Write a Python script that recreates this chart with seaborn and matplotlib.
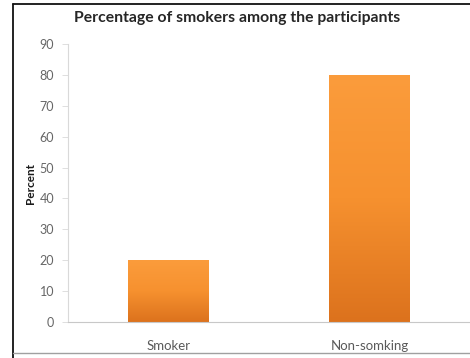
import numpy as np
import pandas as pd
import matplotlib
matplotlib.use("Agg")
import matplotlib.pyplot as plt
from matplotlib.colors import LinearSegmentedColormap
from matplotlib.lines import Line2D
import seaborn as sns

categories = ["Smoker", "Non-somking"]
percent = [20, 80]
yticks = [0, 10, 20, 30, 40, 50, 60, 70, 80, 90]
title = "Percentage of smokers among the participants"
ylabel = "Percent"

sns.set_theme(style="white")
plt.rcParams["font.family"] = ["Lato", "DejaVu Sans"]

df = pd.DataFrame({"category": categories, "percent": percent})

fig = plt.figure(figsize=(4.70, 3.58), dpi=100)
ax = fig.add_axes([68 / 470, 36 / 358, 402 / 470, 278 / 358])

sns.barplot(data=df, x="category", y="percent", ax=ax, width=0.4,
            color="#F08A2A", saturation=1, edgecolor="none")

ax.set_xlim(-0.5, 1.5)
ax.set_ylim(0, 90)
ax.set_yticks(yticks)
ax.set_xlabel("")
ax.set_ylabel(ylabel, fontsize=8.5, fontweight="bold", color="#1a1a1a")
ax.yaxis.set_label_coords(-32 / 402, 0.5)

# vertical orange gradient inside each bar
grad = LinearSegmentedColormap.from_list("bar", ["#DC721D", "#F6912F", "#FB9C3C"])
g = np.linspace(0, 1, 256).reshape(-1, 1)
for patch in ax.patches:
    x0, y0 = patch.get_x(), patch.get_y()
    w, h = patch.get_width(), patch.get_height()
    im = ax.imshow(g, cmap=grad, aspect="auto", origin="lower",
                   extent=[x0, x0 + w, y0, y0 + h], zorder=2)
    im.set_clip_path(patch)
    patch.set_facecolor("none")
ax.set_xlim(-0.5, 1.5)
ax.set_ylim(0, 90)

for s in ["top", "right"]:
    ax.spines[s].set_visible(False)
ax.spines["left"].set_color("#d9d9d9")
ax.spines["bottom"].set_color("#c8c8c8")
ax.spines["left"].set_linewidth(0.8)
ax.spines["bottom"].set_linewidth(0.8)

ax.tick_params(axis="y", left=True, length=4, width=0.6, color="#d9d9d9",
               labelsize=9, labelcolor="#666666", pad=6)
ax.tick_params(axis="x", bottom=False, labelsize=9.5, labelcolor="#5a5a5a", pad=7)

fig.text(237 / 470, 1 - 18 / 358, title, ha="center", va="center",
         fontsize=11.3, fontweight="bold", color="#262626")

# chart frame: dark left and top edges, grey bottom edge
fig.add_artist(Line2D([13 / 470, 13 / 470], [0, 1 - 4 / 358],
                      transform=fig.transFigure, color="#111111", lw=1.3))
fig.add_artist(Line2D([13 / 470, 1], [1 - 4 / 358, 1 - 4 / 358],
                      transform=fig.transFigure, color="#111111", lw=1.3))
fig.add_artist(Line2D([13 / 470, 1], [1 - 353 / 358, 1 - 353 / 358],
                      transform=fig.transFigure, color="#a0a0a0", lw=1.0))

fig.savefig("out.png", dpi=100)
